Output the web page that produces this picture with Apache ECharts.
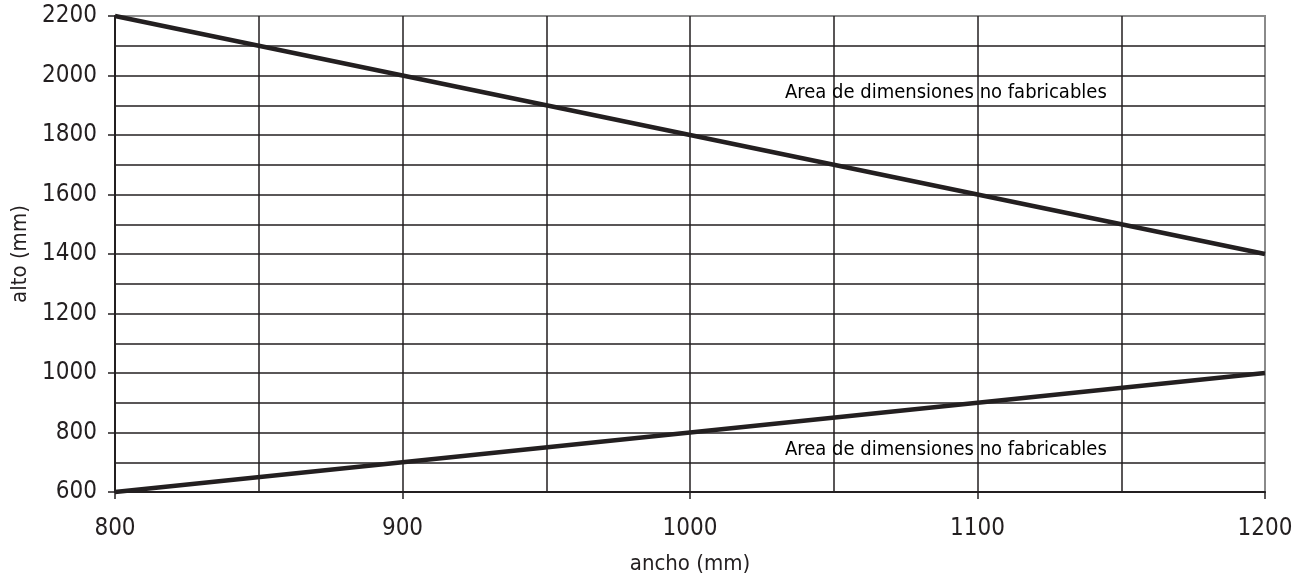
<!DOCTYPE html>
<html>
<head>
<meta charset="utf-8">
<script src="https://cdn.jsdelivr.net/npm/echarts@6/dist/echarts.min.js"></script>
<style>
  html, body { margin: 0; padding: 0; background: #fff; }
  #chart { width: 1295px; height: 580px; }
</style>
</head>
<body>
<div id="chart"></div>
<script>
// limite superior e inferior (ancho, alto)
const upperLimit = [[800, 2200], [1200, 1400]];
const lowerLimit = [[800, 600], [1200, 1000]];
const noteText = "Area de dimensiones no fabricables";
const notes = [[1089, 1942], [1089, 742]];

const ink = "#231f20";
const font = "'Liberation Sans Narrow', 'DejaVu Sans Condensed', sans-serif";

const chart = echarts.init(document.getElementById("chart"));

const gridLine = { show: true, lineStyle: { color: ink, width: 1.5 } };

const option = {
  animation: false,
  grid: {
    left: 115,
    right: 30,
    top: 16,
    bottom: 88,
    outerBoundsMode: "none",
    containLabel: false,
    show: true,
    borderColor: "#8a8a8a",
    borderWidth: 2,
  },
  xAxis: {
    type: "value",
    min: 800,
    max: 1200,
    interval: 100,
    name: "ancho (mm)",
    nameLocation: "middle",
    nameGap: 61,
    nameTextStyle: { fontFamily: font, fontSize: 22, color: ink },
    axisLine: { show: true, lineStyle: { color: ink, width: 2 } },
    axisTick: { show: true, length: 7, lineStyle: { color: ink, width: 1.5 } },
    axisLabel: { margin: 25, fontFamily: font, fontSize: 24, color: ink, formatter: (v) => String(v) },
    splitLine: { ...gridLine, showMinLine: false, showMaxLine: false },
    minorTick: { show: false, splitNumber: 2 },
    minorSplitLine: gridLine,
  },
  yAxis: {
    type: "value",
    min: 600,
    max: 2200,
    interval: 200,
    name: "alto (mm)",
    nameLocation: "middle",
    nameGap: 70,
    nameTextStyle: { fontFamily: font, fontSize: 22, color: ink },
    axisLine: { show: true, lineStyle: { color: ink, width: 2 } },
    axisTick: { show: true, length: 7, lineStyle: { color: ink, width: 1.5 } },
    axisLabel: { margin: 18, fontFamily: font, fontSize: 24, color: ink, formatter: (v) => String(v) },
    splitLine: { ...gridLine, showMinLine: false, showMaxLine: false },
    minorTick: { show: false, splitNumber: 2 },
    minorSplitLine: gridLine,
  },
  series: [
    {
      type: "line",
      data: upperLimit,
      symbol: "none",
      clip: false,
      lineStyle: { color: ink, width: 4.5 },
    },
    {
      type: "line",
      data: lowerLimit,
      symbol: "none",
      clip: false,
      lineStyle: { color: ink, width: 4.5 },
    },
    {
      type: "scatter",
      data: notes,
      symbolSize: 0,
      itemStyle: { opacity: 1 },
      label: {
        show: true,
        position: "inside",
        formatter: noteText,
        fontFamily: font,
        fontSize: 20,
        color: "#000",
        opacity: 1,
      },
    },
  ],
};

chart.setOption(option);
</script>
</body>
</html>
